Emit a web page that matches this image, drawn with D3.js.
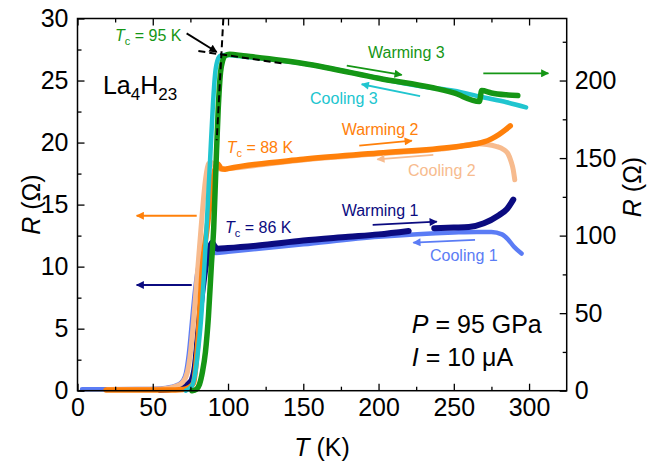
<!DOCTYPE html>
<html>
<head>
<meta charset="utf-8">
<script src="https://cdn.jsdelivr.net/npm/d3@7/dist/d3.min.js"></script>
<style>
  body { margin: 0; background: #fff; }
  text { font-family: Arial, "Liberation Sans", sans-serif; }
</style>
</head>
<body>
<script>
// ---- data (T in K, R in ohm). runs 1 and 2 on the left axis, run 3 on the right axis
const warm1T = [55, 60, 65, 70, 74, 76, 78, 80, 82, 84, 86, 88, 89.5, 91, 93, 100, 120, 150, 180, 200, 220, null, 237, 250, 260, 270, 280, 285, 289.5];
const warm1R = [0.05, 0.1, 0.2, 0.35, 0.6, 0.9, 2, 4.5, 7, 9, 10.6, 11.6, 11.95, 11.65, 11.45, 11.5, 11.7, 12.1, 12.4, 12.6, 12.88, null, 13.1, 13.15, 13.2, 13.5, 14.15, 14.6, 15.4];
const cool1T = [3, 20, 40, 55, 62, 67, 70, 72, 74, 76, 78, 80, 82, 85, 88, 92, 100, 150, 200, 250, 265, 275, 282, 286, 290, 295];
const cool1R = [0.12, 0.12, 0.13, 0.18, 0.3, 0.5, 0.8, 1.4, 3.0, 5.5, 8.0, 9.8, 10.8, 11.2, 11.2, 11.1, 11.2, 11.8, 12.4, 12.75, 12.8, 12.8, 12.6, 12.2, 11.6, 11.05];
const warm2T = [19, 40, 60, 70, 74, 77, 80, 83, 86, 89, 91, 93, 95.5, 98, 100, 150, 200, 250, 265, 270, 275, 280, 284, 287.5];
const warm2R = [0.05, 0.05, 0.05, 0.1, 0.25, 0.6, 4, 10, 13, 16, 17.7, 18.3, 17.9, 17.85, 17.9, 18.65, 19.15, 19.65, 19.9, 20.05, 20.3, 20.65, 21.0, 21.35];
const cool2T = [20, 50, 60, 65, 70, 73, 75, 77, 79, 81, 83, 85, 87, 89, 92, 96, 100, 150, 200, 250, 265, 272, 278, 283, 286, 288, 289.5, 290.5];
const cool2R = [0.1, 0.12, 0.2, 0.35, 0.7, 1.5, 3.0, 5.5, 8.5, 11.5, 14.5, 17, 18.3, 18.4, 18.0, 17.85, 17.9, 18.6, 19.1, 19.6, 19.9, 19.85, 19.7, 19.45, 19.1, 18.5, 17.8, 17.0];
const warm3T = [76, 79, 81, 83, 85, 87, 89, 90.5, 92, 93.5, 95, 96.5, 98, 101, 110, 150, 200, 250, 267, 268.5, 275, 285, 292.5];
const warm3R = [0, 1, 4, 12, 25, 48, 82, 105, 145, 182, 205, 213, 216, 217, 216, 211, 201.5, 192, 186.5, 193.5, 192, 190.8, 190.3];
const cool3T = [72, 76, 78, 80, 82, 84, 86, 88, 90, 91.5, 93, 95, 98, 110, 150, 200, 230, 250, 268, 285, 298];
const cool3R = [0, 3, 10, 25, 45, 75, 110, 147, 185, 205, 213, 216, 216.5, 215.5, 211, 201.5, 196, 193.5, 189.5, 186, 182.7];

// ticks
const xTicks = [0, 50, 100, 150, 200, 250, 300];
const xMinor = [25, 75, 125, 175, 225, 275];
const yLTicks = [0, 5, 10, 15, 20, 25, 30];
const yLMinor = [2.5, 7.5, 12.5, 17.5, 22.5, 27.5];
const yRTicks = [0, 50, 100, 150, 200];
const yRMinor = [25, 75, 125, 175, 225];

// ---- layout
const W = 649, H = 470;
const margin = { top: 18.5, right: 82.3, bottom: 79.3, left: 77.5 },
    width = W - margin.left - margin.right,
    height = H - margin.top - margin.bottom;

const svg = d3.select("body").append("svg")
    .attr("width", W).attr("height", H)
    .attr("xmlns", "http://www.w3.org/2000/svg");
const g = svg.append("g")
    .attr("transform", "translate(" + margin.left + "," + margin.top + ")");

const x = d3.scaleLinear().domain([0, 325]).range([0, width]);
const yL = d3.scaleLinear().domain([0, 30]).range([height, 0]);
const yR = d3.scaleLinear().domain([0, 240]).range([height, 0]);

const C = {
    navy: "#0b0b80", blue: "#5b7cf5", orange: "#ff800a", peach: "#f7bb8e",
    green: "#159615", cyan: "#20c5cf"
};

// ---- curves
const series = [
    { T: cool1T, R: cool1R, y: yL, color: C.blue, w: 4.5 },
    { T: warm1T, R: warm1R, y: yL, color: C.navy, w: 6 },
    { T: cool2T, R: cool2R, y: yL, color: C.peach, w: 5 },
    { T: warm2T, R: warm2R, y: yL, color: C.orange, w: 5.5 },
    { T: cool3T, R: cool3R, y: yR, color: C.cyan, w: 4.5 },
    { T: warm3T, R: warm3R, y: yR, color: C.green, w: 5.5 }
];

series.forEach(s => {
    const pts = s.T.map((t, i) => ({ t: t, r: s.R[i] }));
    g.append("path")
        .datum(pts)
        .attr("fill", "none")
        .attr("stroke", s.color)
        .attr("stroke-width", s.w)
        .attr("stroke-linecap", "round")
        .attr("stroke-linejoin", "round")
        .attr("d", d3.line()
            .defined(d => d.t !== null)
            .x(d => x(d.t))
            .y(d => s.y(d.r))
            .curve(d3.curveMonotoneX));
});

// dashed tangent lines for Tc of run 3 (right axis units)
const tangentA = [[80.3, 219], [135.7, 211.1]];
const tangentB = [[96.9, 240.1], [92.5, 161.5]];
[tangentA, tangentB].forEach(l => {
    g.append("line")
        .attr("x1", x(l[0][0])).attr("y1", yR(l[0][1]))
        .attr("x2", x(l[1][0])).attr("y2", yR(l[1][1]))
        .attr("stroke", "#000").attr("stroke-width", 2)
        .attr("stroke-dasharray", "7,4");
});

// ---- arrows, in left-axis units [tail, head]
const defs = svg.append("defs");
Object.keys(C).concat(["black"]).forEach(k => {
    defs.append("marker")
        .attr("id", "ah-" + k)
        .attr("viewBox", "0 0 10 10")
        .attr("refX", 9).attr("refY", 5)
        .attr("markerUnits", "userSpaceOnUse")
        .attr("markerWidth", 13).attr("markerHeight", 8)
        .attr("orient", "auto")
        .append("path").attr("d", "M0,0L10,5L0,10z")
        .attr("fill", k === "black" ? "#000" : C[k]);
});
const arrows = [
    { c: "black", p: [[72.5, 28.8], [92.5, 27.3]] },
    { c: "green", p: [[178.9, 26.2], [215.4, 25.45]] },
    { c: "cyan", p: [[227.6, 23.75], [188.8, 24.7]] },
    { c: "green", p: [[269.6, 25.58], [312.8, 25.58]] },
    { c: "orange", p: [[187.2, 19.75], [222.1, 20.15]] },
    { c: "peach", p: [[236.4, 19.0], [199.2, 18.65]] },
    { c: "orange", p: [[79.2, 14.1], [39.3, 14.1]] },
    { c: "navy", p: [[75.9, 8.52], [39.3, 8.52]] },
    { c: "navy", p: [[196.1, 13.36], [238.7, 13.62]] },
    { c: "blue", p: [[264.1, 12.15], [223.1, 11.93]] }
];
arrows.forEach(a => {
    g.append("line")
        .attr("x1", x(a.p[0][0])).attr("y1", yL(a.p[0][1]))
        .attr("x2", x(a.p[1][0])).attr("y2", yL(a.p[1][1]))
        .attr("stroke", a.c === "black" ? "#000" : C[a.c])
        .attr("stroke-width", 1.8)
        .attr("marker-end", "url(#ah-" + a.c + ")");
});

// ---- labels
const labels = [
    { t: "Warming 3", c: "green", at: [193, 26.8] },
    { t: "Cooling 3", c: "cyan", at: [154.5, 23.1] },
    { t: "Warming 2", c: "orange", at: [175.5, 20.6] },
    { t: "Cooling 2", c: "peach", at: [219.6, 17.3] },
    { t: "Warming 1", c: "navy", at: [175.5, 14.1] },
    { t: "Cooling 1", c: "blue", at: [234.2, 10.45] }
];
labels.forEach(l => {
    g.append("text")
        .attr("x", x(l.at[0])).attr("y", yL(l.at[1]))
        .attr("fill", C[l.c]).style("font-size", "16px")
        .text(l.t);
});

const tcLabels = [
    { v: "95", c: "green", at: [24.9, 28.2] },
    { v: "88", c: "orange", at: [99.1, 19.16] },
    { v: "86", c: "navy", at: [98, 12.7] }
];
tcLabels.forEach(l => {
    const t = g.append("text")
        .attr("x", x(l.at[0])).attr("y", yL(l.at[1]))
        .attr("fill", C[l.c]).style("font-size", "16px");
    t.append("tspan").style("font-style", "italic").text("T");
    t.append("tspan").attr("dy", 4).style("font-size", "11px").text("c");
    t.append("tspan").attr("dy", -4).text(" = " + l.v + " K");
});

const formula = g.append("text")
    .attr("x", x(16.9)).attr("y", yL(23.9))
    .attr("fill", "#000").style("font-size", "25px");
formula.append("tspan").text("La");
formula.append("tspan").attr("dy", 6).style("font-size", "17px").text("4");
formula.append("tspan").attr("dy", -6).text("H");
formula.append("tspan").attr("dy", 6).style("font-size", "17px").text("23");

const pText = g.append("text")
    .attr("x", x(222.1)).attr("y", yL(4.65))
    .attr("fill", "#000").style("font-size", "25px");
pText.append("tspan").style("font-style", "italic").text("P");
pText.append("tspan").text(" = 95 GPa");
const iText = g.append("text")
    .attr("x", x(222.1)).attr("y", yL(1.96))
    .attr("fill", "#000").style("font-size", "25px");
iText.append("tspan").style("font-style", "italic").text("I");
iText.append("tspan").text(" = 10 \u03bcA");

// ---- axes
function styleAxis(sel) {
    sel.select(".domain").remove();
    sel.selectAll("line").attr("stroke", "#000").attr("stroke-width", 1.3);
    sel.selectAll("text").attr("fill", "#000").style("font-size", "25px")
        .style("font-family", "Arial, 'Liberation Sans', sans-serif");
}

g.append("g").attr("transform", "translate(0," + height + ")")
    .call(d3.axisBottom(x).tickValues(xTicks).tickSizeInner(-7).tickSizeOuter(0).tickPadding(8))
    .call(styleAxis);
g.append("g").attr("transform", "translate(0," + height + ")")
    .call(d3.axisBottom(x).tickValues(xMinor).tickSize(-4).tickFormat(""))
    .call(styleAxis);
g.append("g")
    .call(d3.axisTop(x).tickValues(xTicks).tickSize(-7).tickFormat(""))
    .call(styleAxis);
g.append("g")
    .call(d3.axisTop(x).tickValues(xMinor).tickSize(-4).tickFormat(""))
    .call(styleAxis);

g.append("g")
    .call(d3.axisLeft(yL).tickValues(yLTicks).tickSizeInner(-7).tickSizeOuter(0).tickPadding(9))
    .call(styleAxis);
g.append("g")
    .call(d3.axisLeft(yL).tickValues(yLMinor).tickSize(-4).tickFormat(""))
    .call(styleAxis);
g.append("g").attr("transform", "translate(" + width + ",0)")
    .call(d3.axisRight(yR).tickValues(yRTicks).tickSizeInner(-7).tickSizeOuter(0).tickPadding(8))
    .call(styleAxis);
g.append("g").attr("transform", "translate(" + width + ",0)")
    .call(d3.axisRight(yR).tickValues(yRMinor).tickSize(-4).tickFormat(""))
    .call(styleAxis);

g.append("rect")
    .attr("width", width).attr("height", height)
    .attr("fill", "none").attr("stroke", "#000").attr("stroke-width", 1.5);

// axis titles
const xt = svg.append("text")
    .attr("x", margin.left + width / 2).attr("y", 456)
    .attr("text-anchor", "middle").style("font-size", "25px").attr("fill", "#000");
xt.append("tspan").style("font-style", "italic").text("T");
xt.append("tspan").text(" (K)");

const ylt = svg.append("text")
    .attr("transform", "translate(40," + (margin.top + height / 2) + ") rotate(-90)")
    .attr("text-anchor", "middle").style("font-size", "25px").attr("fill", "#000");
ylt.append("tspan").style("font-style", "italic").text("R");
ylt.append("tspan").text(" (\u03a9)");

const yrt = svg.append("text")
    .attr("transform", "translate(641,187) rotate(-90)")
    .attr("text-anchor", "middle").style("font-size", "25px").attr("fill", "#000");
yrt.append("tspan").style("font-style", "italic").text("R");
yrt.append("tspan").text(" (\u03a9)");
</script>
</body>
</html>
